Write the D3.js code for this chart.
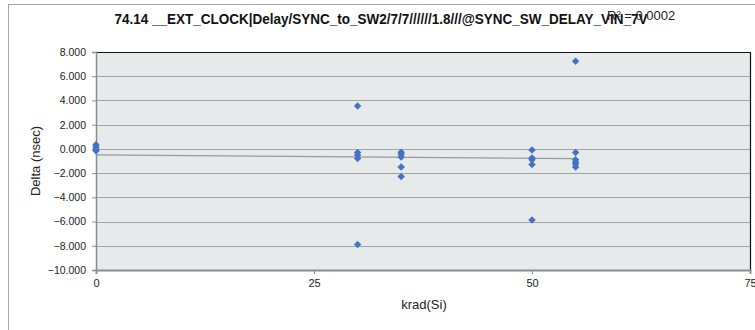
<!DOCTYPE html>
<html><head><meta charset="utf-8">
<script src="https://cdn.jsdelivr.net/npm/d3@7"></script>
<style>body{margin:0;background:#fff;} svg{display:block;}</style>
</head><body>
<script>
const xs = [0,0,0,0, 30,30,30,30,30, 35,35,35,35,35, 50,50,50,50,50, 55,55,55,55,55,55];
const ys = [0.35,0.15,-0.05,-0.15, 3.55,-0.3,-0.5,-0.8,-7.9, -0.27,-0.45,-0.68,-1.5,-2.28, -0.1,-0.75,-0.9,-1.29,-5.87, 7.23,-0.29,-0.9,-1.1,-1.25,-1.5];
const xTicks = [0,25,50,75];
const yTicks = [8,6,4,2,0,-2,-4,-6,-8,-10];
const titleText = "74.14 __EXT_CLOCK|Delay/SYNC_to_SW2/7/7//////1.8///@SYNC_SW_DELAY_VIN_7V";
const r2Text = "R² = 0.0002";

const W=755,H=330;
const svg=d3.select("body").append("svg").attr("width",W).attr("height",H);
const font="'Liberation Sans Narrow', 'Liberation Sans', Arial, sans-serif";
svg.append("rect").attr("x",8.5).attr("y",4.5).attr("width",760).attr("height",340).attr("fill","#fff").attr("stroke","#a6a6a6");

const L=96,R=750,T=52,B=270;
const x=d3.scaleLinear().domain([0,75]).range([L,R]);
const y=d3.scaleLinear().domain([-10,8]).range([B,T]);

svg.append("rect").attr("x",L).attr("y",T).attr("width",R-L).attr("height",B-T).attr("fill","#e6eaea");
svg.append("g").selectAll("line").data(yTicks).join("line")
  .attr("x1",L).attr("x2",R).attr("y1",d=>Math.round(y(d))+0.5).attr("y2",d=>Math.round(y(d))+0.5)
  .attr("stroke","#a3a3a3").attr("stroke-width",1.2);
svg.append("path").attr("d",`M${L},${T+0.5}H${R+0.5}V${B}`).attr("fill","none").attr("stroke","#111").attr("stroke-width",1.2);

const ya=d3.axisLeft(y).tickValues(yTicks).tickFormat(d3.format(".3f")).tickSize(4);
const gy=svg.append("g").attr("transform",`translate(${L},0)`).call(ya);
gy.select(".domain").attr("stroke","#8c8c8c").attr("stroke-width",1.5);
gy.selectAll(".tick line").attr("stroke","#8c8c8c");
gy.selectAll("text").attr("font-family",font).attr("font-size",10.5).attr("fill","#222").attr("x",-10);

const xa=d3.axisBottom(x).tickValues(xTicks).tickFormat(d3.format("d")).tickSize(4);
const gx=svg.append("g").attr("transform",`translate(0,${B})`).call(xa);
gx.select(".domain").attr("stroke","#8c8c8c").attr("stroke-width",2);
gx.selectAll(".tick line").attr("stroke","#8c8c8c");
gx.selectAll("text").attr("font-family",font).attr("font-size",11).attr("fill","#222").attr("y",9);

const n=xs.length, mx=d3.mean(xs), my=d3.mean(ys);
let sxy=0,sxx=0; for(let i=0;i<n;i++){sxy+=(xs[i]-mx)*(ys[i]-my);sxx+=(xs[i]-mx)**2;}
const b=sxy/sxx, a=my-b*mx;
const x0=d3.min(xs), x1=d3.max(xs);
svg.append("line").attr("x1",x(x0)).attr("x2",x(x1)).attr("y1",y(a+b*x0)).attr("y2",y(a+b*x1))
  .attr("stroke","#9a9a9a").attr("stroke-width",1.3);

const sym=d3.symbol().type(d3.symbolSquare).size(28);
svg.append("g").selectAll("path").data(xs.map((v,i)=>[v,ys[i]])).join("path")
  .attr("d",sym).attr("transform",d=>`translate(${x(d[0])},${y(d[1])}) rotate(45)`).attr("fill","#4472c4");

svg.append("text").attr("x",381).attr("y",24).attr("text-anchor","middle").attr("font-family",font)
  .attr("font-weight","bold").attr("font-size",14).attr("textLength",533).attr("lengthAdjust","spacingAndGlyphs").attr("fill","#111").text(titleText);
svg.append("text").attr("x",607).attr("y",20).attr("font-family",font).attr("font-size",13).attr("fill","#222").text(r2Text);
svg.append("text").attr("transform","translate(40,161) rotate(-90)").attr("text-anchor","middle").attr("font-family",font)
  .attr("font-size",13).attr("fill","#222").text("Delta (nsec)");
svg.append("text").attr("x",424).attr("y",309).attr("text-anchor","middle").attr("font-family",font)
  .attr("font-size",13).attr("fill","#222").text("krad(Si)");
</script>
</body></html>
